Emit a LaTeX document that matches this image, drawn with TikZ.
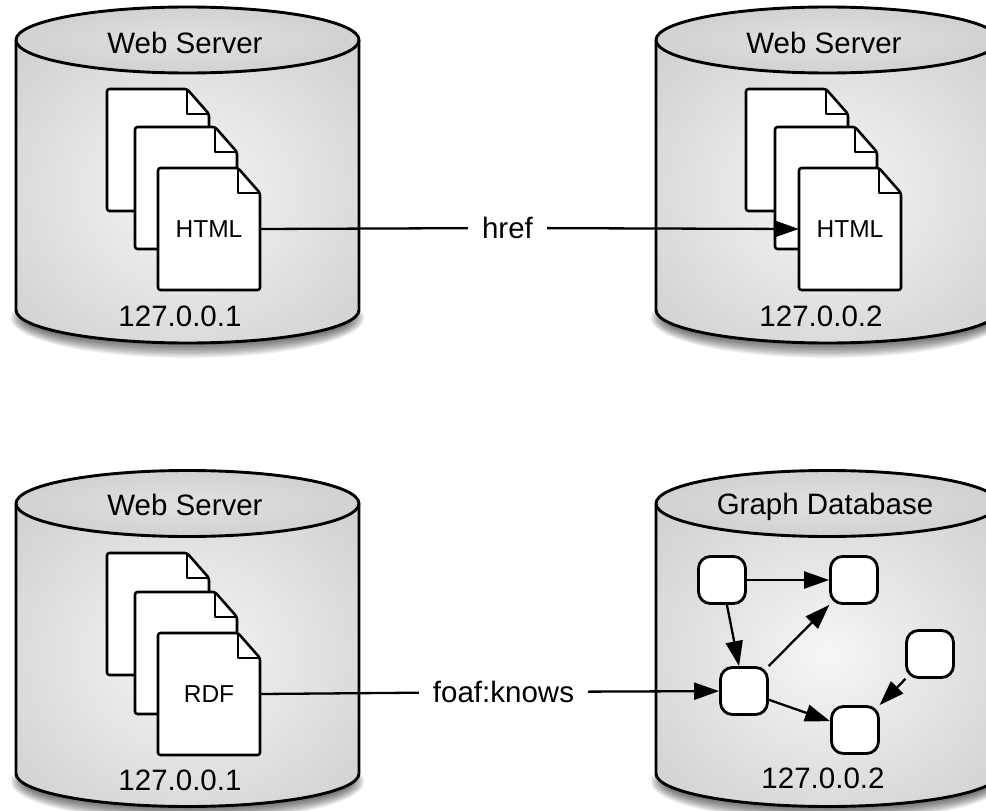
\documentclass[tikz,border=0pt]{standalone}
\usepackage{fontspec}
\setmainfont{Liberation Sans}
\usetikzlibrary{arrows.meta}
\definecolor{bodyin}{gray}{0.965}
\definecolor{bodyout}{gray}{0.75}
\definecolor{topin}{gray}{0.88}
\definecolor{topout}{gray}{0.76}
\pgfdeclareradialshading{cylbody}{\pgfpoint{0bp}{0bp}}{color(0bp)=(bodyin); color(50bp)=(bodyout)}
\pgfdeclareradialshading{cyltop}{\pgfpoint{0bp}{0bp}}{color(0bp)=(topin); color(50bp)=(topout)}
\tikzset{
  cylline/.style={line width=2.9pt, line join=round},
  docline/.style={line width=2.6pt, line join=round, rounded corners=2.5pt, fill=white, draw=black},
  docnode/.style={minimum width=102pt, minimum height=122pt, inner sep=0pt, font=\fontsize{24.5}{29}\selectfont},
  bigtxt/.style={inner sep=0pt, font=\fontsize{29.5}{35}\selectfont},
  lbl/.style={inner xsep=14pt, inner ysep=2pt, font=\fontsize{29.5}{35}\selectfont},
  conn/.style={line width=2.3pt},
  tip/.style={-{Triangle[length=25pt,width=17pt]}},
  gnode/.style={draw, fill=white, line width=2.8pt, rounded corners=12pt, minimum width=47pt, minimum height=47pt, inner sep=0pt},
}
\newcommand\mycylinder[3]{%
  \foreach \k in {0,...,8}{
    \fill[black, opacity=0.075] (#1,#3+8) ellipse [x radius={164pt+1.6pt*\k}, y radius={27pt+1.6pt*\k}];
  }
  \path[shade, shading=cylbody] (#1-171.5,#2) -- (#1-171.5,#3) arc[start angle=180, end angle=360, x radius=171.5pt, y radius=33pt] -- (#1+171.5,#2) -- cycle;
  \draw[cylline] (#1-171.5,#2) -- (#1-171.5,#3) arc[start angle=180, end angle=360, x radius=171.5pt, y radius=33pt] -- (#1+171.5,#2);
  \draw[cylline, shade, shading=cyltop] (#1,#2) ellipse [x radius=171.5pt, y radius=33pt];
}
\newcommand\mydocpage[2]{%
  \filldraw[docline] (#1,#2) -- (#1+80,#2) -- (#1+102,#2+25) -- (#1+102,#2+122) -- (#1,#2+122) -- cycle;
  \draw[docline, fill=none, rounded corners=0pt] (#1+80,#2) -- (#1+80,#2+25) -- (#1+102,#2+25);
}
\begin{document}
\begin{tikzpicture}[x=1pt, y=-1pt]
\useasboundingbox (0,0) rectangle (986,811);
\fill[white] (0,0) rectangle (986,811);

% cylinders
\mycylinder{187.5}{40}{310}
\mycylinder{827.5}{40}{310}
\mycylinder{187.5}{503.5}{773.5}
\mycylinder{827.5}{503.5}{773.5}

% documents
\mydocpage{107}{89}
\mydocpage{135}{127}
\mydocpage{158}{168}
\mydocpage{746}{89}
\mydocpage{775}{127}
\mydocpage{799}{168}
\mydocpage{107}{553}
\mydocpage{135}{592}
\mydocpage{158}{633}

\node[docnode] (html1) at (209,229) {HTML};
\node[docnode] (html2) at (850,229) {HTML};
\node[docnode] (rdf) at (209,694) {RDF};

% cylinder labels
\node[bigtxt, anchor=base] (ws1) at (185,53) {Web Server};
\node[bigtxt, anchor=base] (ip1) at (180,326) {127.0.0.1};
\node[bigtxt, anchor=base] (ws2) at (824,53) {Web Server};
\node[bigtxt, anchor=base] (ip2) at (821,326) {127.0.0.2};
\node[bigtxt, anchor=base] (ws3) at (185,515) {Web Server};
\node[bigtxt, anchor=base] (ip3) at (180,790) {127.0.0.1};
\node[bigtxt, anchor=base] (gdb) at (825,514) {Graph Database};
\node[bigtxt, anchor=base] (ip4) at (823,788) {127.0.0.2};

% graph nodes
\node[gnode] (ga) at (722,580) {};
\node[gnode] (gb) at (854,580) {};
\node[gnode] (gc) at (744,691) {};
\node[gnode] (gd) at (930,654) {};
\node[gnode] (ge) at (855,730) {};

\draw[conn, tip] (ga) -- (gb);
\draw[conn, tip] (ga) -- (gc);
\draw[conn, tip] (gc) -- (gb);
\draw[conn, tip] (gc) -- (ge);
\draw[conn, tip] (gd) -- (ge);

% connectors between servers
\node[lbl] (href) at (507.5,228) {href};
\draw[conn] (html1.east) -- (href);
\draw[conn, tip] (href) -- (html2.west);

\node[lbl] (foaf) at (503.5,692) {foaf:knows};
\draw[conn] (rdf.east) -- (foaf);
\draw[conn, tip] (foaf) -- (gc);
\end{tikzpicture}
\end{document}
